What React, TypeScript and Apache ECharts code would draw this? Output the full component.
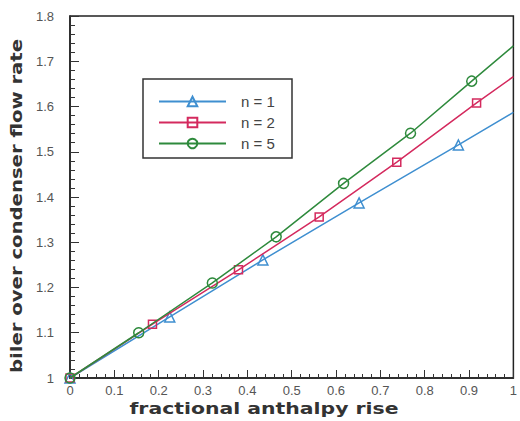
import React, { useEffect, useRef } from "react";
import * as echarts from "echarts";

const seriesNames = ["n = 1", "n = 2", "n = 5"];
const colors = ["#3f8fd0", "#d42a5e", "#2e8a3c"];
const symbols = ["triangle", "rect", "circle"];

const n1X = [0, 0.225, 0.435, 0.652, 0.876, 1];
const n1Y = [1, 1.135, 1.261, 1.387, 1.515, 1.587];
const n2X = [0, 0.186, 0.38, 0.562, 0.737, 0.917, 1];
const n2Y = [1, 1.119, 1.239, 1.356, 1.477, 1.608, 1.666];
const n5X = [0, 0.155, 0.321, 0.465, 0.617, 0.768, 0.906, 1];
const n5Y = [1, 1.1, 1.21, 1.312, 1.43, 1.541, 1.656, 1.734];

const xTitle = "fractional anthalpy rise";
const yTitle = "biler over condenser flow rate";

const xs = [n1X, n2X, n5X];
const ys = [n1Y, n2Y, n5Y];

export default function App() {
  const ref = useRef<HTMLDivElement>(null);
  useEffect(() => {
    if (!ref.current) return;
    const chart = echarts.init(ref.current, null, { renderer: "svg" });
    const series = seriesNames.map((name, i) => ({
      name,
      type: "line",
      symbol: symbols[i],
      symbolSize: i === 1 ? 8 : 10,
      showAllSymbol: true,
      lineStyle: { color: colors[i], width: 1.5 },
      itemStyle: { color: "rgba(255,255,255,0)", borderColor: colors[i], borderWidth: 1.5 },
      data: xs[i].map((x, j) =>
        x === 1 ? { value: [x, ys[i][j]], symbol: "none" } : { value: [x, ys[i][j]] }
      ),
      z: 3 + i,
    }));
    chart.setOption({
      animation: false,
      backgroundColor: "#ffffff",
      grid: {
        left: 70,
        top: 16,
        right: 5,
        bottom: 43,
        show: true,
        borderColor: "#222",
        borderWidth: 1.5,
      },
      xAxis: {
        type: "value",
        min: 0,
        max: 1,
        interval: 0.1,
        axisLine: { show: true, lineStyle: { color: "#222", width: 1.5 } },
        axisTick: { show: true, inside: true, length: 8, lineStyle: { color: "#333" } },
        minorTick: { show: true, splitNumber: 5, length: 4, lineStyle: { color: "#333" } },
        splitLine: { show: false },
        axisLabel: { margin: 6, color: "#555", fontSize: 13, fontFamily: "Liberation Sans" },
      },
      yAxis: {
        type: "value",
        min: 1,
        max: 1.8,
        interval: 0.1,
        axisLine: { show: true, lineStyle: { color: "#222", width: 1.5 } },
        axisTick: { show: true, inside: true, length: 9, lineStyle: { color: "#333" } },
        minorTick: { show: true, splitNumber: 5, length: 5, lineStyle: { color: "#333" } },
        splitLine: { show: false },
        axisLabel: { margin: 16, color: "#555", fontSize: 13, fontFamily: "Liberation Sans" },
      },
      legend: {
        data: seriesNames,
        orient: "vertical",
        left: 158,
        top: 94,
        itemWidth: 67,
        itemHeight: 12,
        itemGap: 6,
        padding: 0,
        textStyle: {
          color: "#444",
          fontSize: 15,
          lineHeight: 12,
          fontFamily: "Liberation Sans",
          padding: [0, 0, 0, 10],
        },
      },
      graphic: [
        {
          type: "rect",
          shape: { x: 143, y: 79, width: 149, height: 79 },
          style: { fill: "rgba(0,0,0,0)", stroke: "#333", lineWidth: 1.5 },
          z: 10,
        },
        {
          type: "text",
          x: 264,
          y: 409,
          scaleX: 1.36,
          style: {
            text: xTitle,
            align: "center",
            verticalAlign: "middle",
            font: "bold 15px 'DejaVu Sans'",
            fill: "#333",
          },
        },
        {
          type: "text",
          x: 17,
          y: 206,
          rotation: Math.PI / 2,
          scaleX: 1.31,
          style: {
            text: yTitle,
            align: "center",
            verticalAlign: "middle",
            font: "bold 15px 'DejaVu Sans'",
            fill: "#333",
          },
        },
      ],
      series,
    });
    return () => chart.dispose();
  }, []);
  return <div ref={ref} style={{ width: 520, height: 421, position: "absolute", left: 0, top: 0 }} />;
}
